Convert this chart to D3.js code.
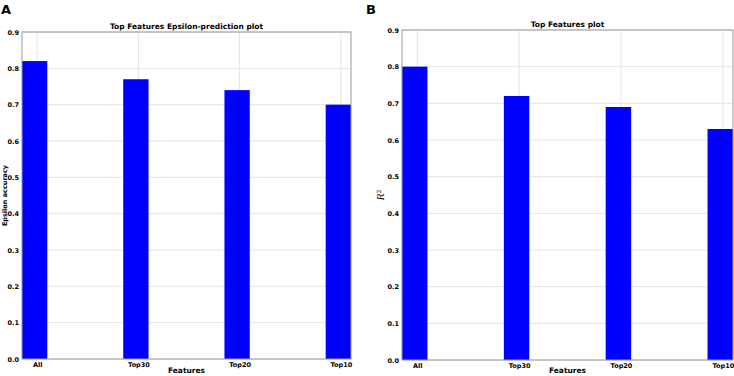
<!DOCTYPE html>
<html lang="en">
<head>
  <meta charset="utf-8" />
  <style>
    body { margin: 0; background: #fff; }
    text { font-family: "DejaVu Sans", sans-serif; font-weight: bold; }
  </style>
</head>
<body>
<script src="https://d3js.org/d3.v7.min.js"></script>
<script>
var categories = ["All", "Top30", "Top20", "Top10"];
var epsilonAccuracy = [0.82, 0.77, 0.74, 0.70];
var r2Values = [0.80, 0.72, 0.69, 0.63];
var yTicks = [0, 0.1, 0.2, 0.3, 0.4, 0.5, 0.6, 0.7, 0.8, 0.9];

var svg = d3.select("body").append("svg")
  .attr("width", 734)
  .attr("height", 376);

function panel(opts) {
  var x = d3.scaleLinear().domain([0, 3.25]).range([opts.left, opts.right]);
  var y = d3.scaleLinear().domain([0, 0.9]).range([opts.bottom, opts.top]);
  var g = svg.append("g");

  // grid
  g.selectAll("line.hgrid")
    .data(yTicks)
    .enter().append("line")
      .attr("x1", opts.left).attr("x2", opts.right)
      .attr("y1", function(d){ return y(d); })
      .attr("y2", function(d){ return y(d); })
      .style("stroke", "#e4e4e4");
  g.selectAll("line.vgrid")
    .data(categories)
    .enter().append("line")
      .attr("x1", function(d, i){ return x(i + 0.15); })
      .attr("x2", function(d, i){ return x(i + 0.15); })
      .attr("y1", opts.top).attr("y2", opts.bottom)
      .style("stroke", "#e4e4e4");

  // bars
  g.selectAll("rect")
    .data(opts.values)
    .enter().append("rect")
      .attr("x", function(d, i){ return x(i); })
      .attr("width", function(d, i){ return x(i + 0.25) - x(i); })
      .attr("y", function(d){ return y(d); })
      .attr("height", function(d){ return y(0) - y(d); })
      .style("fill", "#0000ff");

  // frame
  g.append("rect")
    .attr("x", opts.left).attr("y", opts.top)
    .attr("width", opts.right - opts.left)
    .attr("height", opts.bottom - opts.top)
    .style("fill", "none")
    .style("stroke", "#9a9a9a");

  var yAxis = g.append("g")
    .attr("transform", "translate(" + opts.left + ",0)")
    .call(d3.axisLeft(y).tickValues(yTicks).tickFormat(d3.format(".1f")).tickSize(0).tickPadding(3));
  yAxis.select(".domain").remove();
  yAxis.selectAll("text").style("font-size", "6.5px").style("font-family", null).attr("dy", "0.35em");

  var xAxis = g.append("g")
    .attr("transform", "translate(0," + opts.bottom + ")")
    .call(d3.axisBottom(x).tickValues([0.15, 1.15, 2.15, 3.15])
      .tickFormat(function(d, i){ return categories[i]; }).tickSize(0).tickPadding(3));
  xAxis.select(".domain").remove();
  xAxis.selectAll("text").style("font-size", "6.5px").style("font-family", null);

  var cx = (opts.left + opts.right) / 2;
  g.append("text")
    .attr("x", cx).attr("y", opts.top - 3)
    .attr("text-anchor", "middle")
    .style("font-size", "7.5px")
    .text(opts.title);

  g.append("text")
    .attr("x", cx).attr("y", 373)
    .attr("text-anchor", "middle")
    .style("font-size", "7.5px")
    .text("Features");

  g.append("text")
    .attr("x", opts.letterX).attr("y", 14)
    .style("font-size", "13px")
    .text(opts.letter);

  return { g: g, y: y, cy: (opts.top + opts.bottom) / 2 };
}

var pa = panel({ left: 22, right: 351, top: 32, bottom: 359, values: epsilonAccuracy,
  title: "Top Features Epsilon-prediction plot", letter: "A", letterX: 1 });
pa.g.append("text")
  .attr("transform", "translate(7," + pa.cy + ") rotate(-90)")
  .attr("text-anchor", "middle")
  .style("font-size", "6.5px")
  .text("Epsilon accuracy");

var pb = panel({ left: 402, right: 733, top: 30, bottom: 360, values: r2Values,
  title: "Top Features plot", letter: "B", letterX: 366 });
var r2 = pb.g.append("text")
  .attr("transform", "translate(384," + pb.cy + ") rotate(-90)")
  .attr("text-anchor", "middle")
  .style("font-family", "'DejaVu Serif', serif")
  .style("font-weight", "normal")
  .style("font-style", "italic")
  .style("font-size", "9px");
r2.append("tspan").text("R");
r2.append("tspan").attr("dy", "-0.45em").style("font-size", "6px").style("font-style", "normal").text("2");
</script>
</body>
</html>
